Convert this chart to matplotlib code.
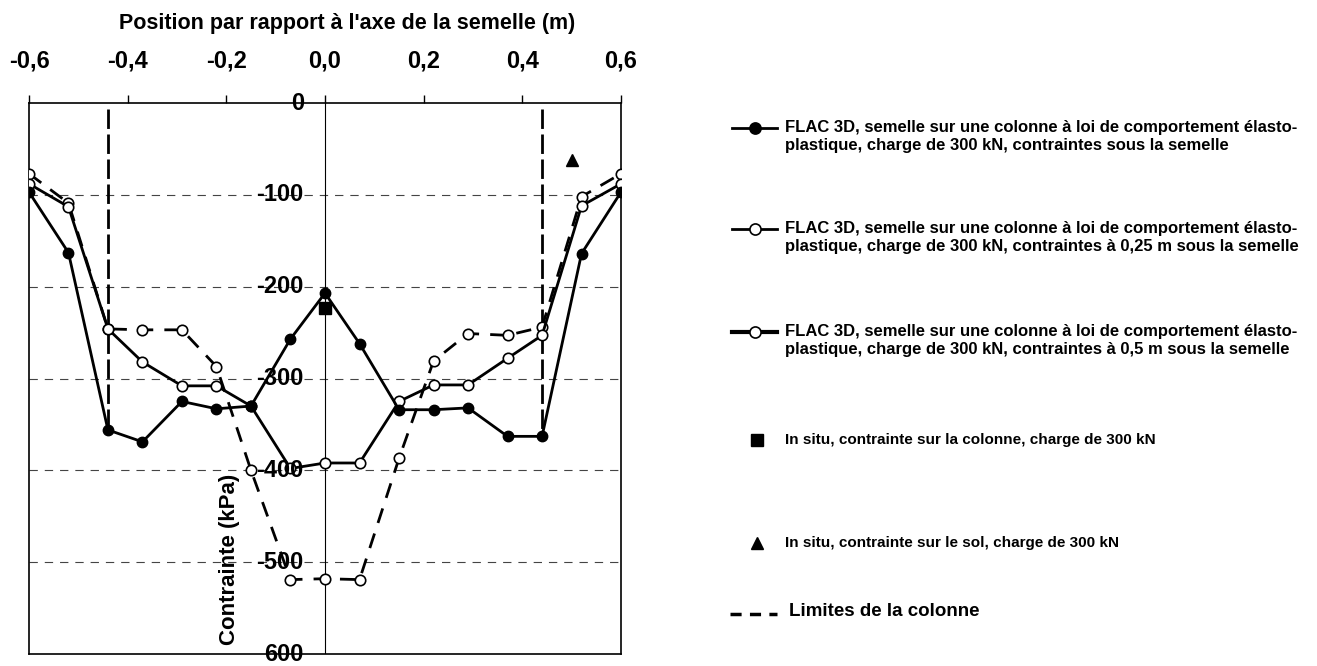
import matplotlib
matplotlib.use("Agg")
import matplotlib.pyplot as plt
from matplotlib.lines import Line2D

plt.rcParams['font.family'] = ['Liberation Sans', 'DejaVu Sans']
plt.rcParams['font.weight'] = 'bold'
plt.rcParams['lines.scale_dashes'] = False

# positions (m)
pos = [-0.6, -0.52, -0.44, -0.37, -0.29, -0.22, -0.15, -0.07, 0.0,
       0.07, 0.15, 0.22, 0.29, 0.37, 0.44, 0.52, 0.6]

# FLAC 3D, contraintes sous la semelle
sous_semelle = [-97, -163, -356, -369, -325, -333, -330, -257, -207,
                -262, -334, -334, -332, -363, -363, -164, -97]
# FLAC 3D, contraintes a 0,25 m
prof_025 = [-88, -113, -246, -282, -308, -308, -330, -398, -392,
            -392, -325, -307, -307, -278, -253, -112, -88]
# FLAC 3D, contraintes a 0,5 m
prof_05 = [-77, -109, -246, -247, -247, -287, -400, -519, -518,
           -519, -387, -281, -251, -253, -244, -102, -77]

# in situ
insitu_col_x, insitu_col_y = [0.0], [-223]
insitu_sol_x, insitu_sol_y = [0.5], [-62]

# limites de la colonne
limites_x = [-0.44, 0.44]
limites_y = [-7, -360]

xticks = [-0.6, -0.4, -0.2, 0.0, 0.2, 0.4, 0.6]
xtick_labels = ['-0,6', '-0,4', '-0,2', '0,0', '0,2', '0,4', '0,6']
yticks = [0, -100, -200, -300, -400, -500, -600]
ytick_labels = ['0', '-100', '-200', '-300', '-400', '-500', '600']

fig = plt.figure(figsize=(13.17, 6.66), dpi=100)
ax = fig.add_axes([29/1317, 12/666, 592/1317, 551/666])

ax.set_xlim(-0.6, 0.6)
ax.set_ylim(-600, 0)

# grid
for yv in yticks[1:-1]:
    ax.axhline(yv, color='#444444', lw=0.8, ls=(0, (6, 5)), zorder=1)
ax.axvline(0, color='black', lw=0.8, zorder=1)

# column limits
for xl in limites_x:
    ax.plot([xl, xl], limites_y, color='black', lw=2, ls=(0, (14, 4)), zorder=2)

ax.plot(pos, prof_05, color='black', lw=2, ls=(0, (11, 8)), marker='o',
        ms=7.5, mfc='white', mec='black', mew=1.2, zorder=3)
ax.plot(pos, prof_025, color='black', lw=2, marker='o',
        ms=7.5, mfc='white', mec='black', mew=1.2, zorder=4)
ax.plot(pos, sous_semelle, color='black', lw=2, marker='o',
        ms=7.5, mfc='black', mec='black', zorder=5)
ax.plot(insitu_col_x, insitu_col_y, ls='none', marker='s', ms=8.5,
        color='black', zorder=6)
ax.plot(insitu_sol_x, insitu_sol_y, ls='none', marker='^', ms=9,
        color='black', zorder=6)

# x axis on top
ax.xaxis.tick_top()
ax.set_xticks(xticks)
ax.set_xticklabels(xtick_labels, fontsize=17, fontweight='bold')
ax.tick_params(axis='x', direction='out', length=6, width=1, pad=16)
fig.text(347/1317, 1 - 23/666, "Position par rapport à l'axe de la semelle (m)",
         ha='center', va='center', fontsize=15.5, fontweight='bold')

# y labels next to the central axis
ax.set_yticks([])
for yv, lab in zip(yticks, ytick_labels):
    ax.text(-0.043, yv, lab, ha='right', va='center', fontsize=17,
            fontweight='bold', zorder=7)
ax.text(0.3395, 0.171, 'Contrainte (kPa)', rotation=90, ha='center',
        va='center', fontsize=16, fontweight='bold', transform=ax.transAxes)

for sp in ax.spines.values():
    sp.set_linewidth(1.2)

# legend drawn in pixel coords on an overlay
lg = fig.add_axes([0, 0, 1, 1])
lg.set_xlim(0, 1317)
lg.set_ylim(666, 0)
lg.axis('off')

l1 = "FLAC 3D, semelle sur une colonne à loi de comportement élasto-"
entries = [
    (128, 2, 'black', l1 + "\nplastique, charge de 300 kN, contraintes sous la semelle"),
    (229, 2, 'white', l1 + "\nplastique, charge de 300 kN, contraintes à 0,25 m sous la semelle"),
    (332, 3, 'white', l1 + "\nplastique, charge de 300 kN, contraintes à 0,5 m sous la semelle"),
]
for yy, lw, fc, txt in entries:
    lg.add_line(Line2D([732, 777], [yy, yy], color='black', lw=lw))
    lg.plot([754.5], [yy], ls='none', marker='o', ms=8, mfc=fc, mec='black', mew=1.2)
    lg.text(785, yy + 8.5, txt, fontsize=12, fontweight='bold', va='center',
            ha='left', linespacing=1.2)

lg.plot([757], [440], ls='none', marker='s', ms=8.5, color='black')
lg.text(785, 440, "In situ, contrainte sur la colonne, charge de 300 kN",
        fontsize=11, fontweight='bold', va='center', ha='left')
lg.plot([757], [543], ls='none', marker='^', ms=9, color='black')
lg.text(785, 543, "In situ, contrainte sur le sol, charge de 300 kN",
        fontsize=11, fontweight='bold', va='center', ha='left')
lg.add_line(Line2D([730, 777], [614, 614], color='black', lw=2.5, ls=(0, (8, 6))))
lg.text(789, 611, "Limites de la colonne", fontsize=13.5, fontweight='bold',
        va='center', ha='left')

fig.savefig('out.png', dpi=100)
